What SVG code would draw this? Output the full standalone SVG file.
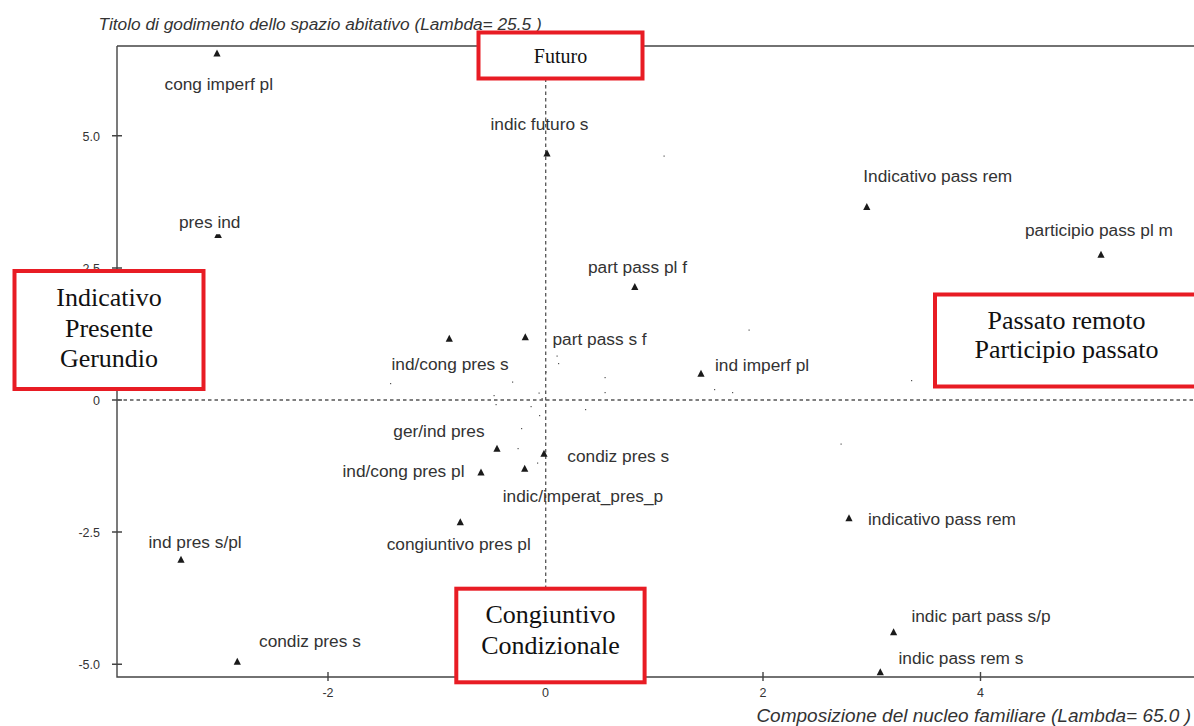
<svg xmlns="http://www.w3.org/2000/svg" xmlns:xlink="http://www.w3.org/1999/xlink" width="1194" height="726" viewBox="0 0 1194 726">
<style>
.lbl{font-family:"Liberation Sans",Arial,sans-serif;font-size:17.3px;fill:#333}
.ttl{font-family:"Liberation Sans",Arial,sans-serif;font-size:17.3px;font-style:italic;fill:#333}
.tick{font-family:"Liberation Sans",Arial,sans-serif;font-size:12.5px;fill:#333}
.box{fill:#fff;stroke:#e81c24;stroke-width:4}
.boxt{font-family:"Liberation Serif","Times New Roman",serif;font-size:26px;fill:#111;text-anchor:middle}
.ax{stroke:#444;stroke-width:1.4;fill:none}
.dash{stroke:#555;stroke-width:1.3;stroke-dasharray:3.5 3;fill:none}
.pt{fill:#1a1a1a}
.dot{fill:#555}
</style>
<defs>
<path id="tri" d="M0,-3.5 L3.6,3.5 L-3.6,3.5 Z"/>
</defs>
<rect width="1194" height="726" fill="#fff"/>

<g id="axes">
<text class="ttl" x="98.5" y="30">Titolo di godimento dello spazio abitativo (Lambda= 25.5 )</text>
<path class="ax" d="M117,46 H1194 M117,46 V677 H1194"/>
<path class="ax" d="M112,135.7 H122 M112,268 H122 M112,400 H122 M112,532 H122 M112,664.3 H122"/>
<path class="ax" d="M328,672 V681 M545.5,672 V681 M763,672 V681 M980.5,672 V681"/>
<g class="tick" text-anchor="end">
<text x="100" y="141">5.0</text>
<text x="100" y="273">2.5</text>
<text x="100" y="405">0</text>
<text x="100" y="537">-2.5</text>
<text x="100" y="669">-5.0</text>
</g>
<g class="tick" text-anchor="middle">
<text x="328" y="697">-2</text>
<text x="545.5" y="697">0</text>
<text x="763" y="697">2</text>
<text x="980.5" y="697">4</text>
</g>
<text class="ttl" x="1191" y="721.5" text-anchor="end" style="font-size:19px">Composizione del nucleo familiare (Lambda= 65.0 )</text>
</g>

<g id="connectors">
<path class="dash" d="M545.7,46 V677"/>
<path class="dash" d="M117,400 H1194"/>
</g>

<g id="dots" class="dot">
<rect x="663.5" y="155.5" width="1.2" height="1.2"/>
<rect x="748.5" y="329.5" width="1.2" height="1.2"/>
<rect x="556.5" y="355.5" width="1.2" height="1.2"/>
<rect x="558" y="363" width="1.2" height="1.2"/>
<rect x="545.5" y="371.5" width="1.2" height="1.2"/>
<rect x="390" y="383" width="1.2" height="1.2"/>
<rect x="512" y="381.5" width="1.2" height="1.2"/>
<rect x="604.5" y="377" width="1.2" height="1.2"/>
<rect x="604.5" y="392" width="1.2" height="1.2"/>
<rect x="714" y="389" width="1.2" height="1.2"/>
<rect x="732" y="392" width="1.2" height="1.2"/>
<rect x="911" y="380" width="1.2" height="1.2"/>
<rect x="493.5" y="395" width="1.2" height="1.2"/>
<rect x="495.5" y="404" width="1.2" height="1.2"/>
<rect x="538.5" y="392.5" width="1.2" height="1.2"/>
<rect x="541.5" y="398" width="1.2" height="1.2"/>
<rect x="530.5" y="406" width="1.2" height="1.2"/>
<rect x="539" y="415" width="1.2" height="1.2"/>
<rect x="585" y="409" width="1.2" height="1.2"/>
<rect x="521" y="428" width="1.2" height="1.2"/>
<rect x="517.5" y="448" width="1.2" height="1.2"/>
<rect x="537" y="462.5" width="1.2" height="1.2"/>
<rect x="840.5" y="443.5" width="1.2" height="1.2"/>
</g>

<g id="p-cong-imperf-pl"><use href="#tri" class="pt" x="217" y="53"/><text class="lbl" x="164.5" y="90">cong imperf pl</text></g>
<g id="p-indic-futuro-s"><use href="#tri" class="pt" x="547" y="153"/><text class="lbl" x="490.5" y="129.5">indic futuro s</text></g>
<g id="p-indicativo-pass-rem-up"><use href="#tri" class="pt" x="866.8" y="206.5"/><text class="lbl" x="863.3" y="181.5">Indicativo pass rem</text></g>
<g id="p-participio-pass-pl-m"><use href="#tri" class="pt" x="1101" y="254.3"/><text class="lbl" x="1025" y="236">participio pass pl m</text></g>
<g id="p-pres-ind"><path class="pt" d="M214.3,238 L221.9,238 L220,234.3 L216.2,234.3 Z"/><text class="lbl" x="179" y="228.3">pres ind</text></g>
<g id="p-part-pass-pl-f"><use href="#tri" class="pt" x="634.8" y="286.5"/><text class="lbl" x="588" y="272.7">part pass pl f</text></g>
<g id="p-ind-cong-pres-s"><use href="#tri" class="pt" x="449.3" y="338.3"/><text class="lbl" x="391.5" y="370">ind/cong pres s</text></g>
<g id="p-part-pass-s-f"><use href="#tri" class="pt" x="525.3" y="336.7"/><text class="lbl" x="552.5" y="345">part pass s f</text></g>
<g id="p-ind-imperf-pl"><use href="#tri" class="pt" x="701" y="373.3"/><text class="lbl" x="715" y="370.7">ind imperf pl</text></g>
<g id="p-ger-ind-pres"><use href="#tri" class="pt" x="497" y="448.3"/><text class="lbl" x="393.3" y="436.7">ger/ind pres</text></g>
<g id="p-condiz-pres-s-c"><use href="#tri" class="pt" x="544" y="453.3"/><text class="lbl" x="567.3" y="461.7">condiz pres s</text></g>
<g id="p-ind-cong-pres-pl"><use href="#tri" class="pt" x="481" y="472"/><text class="lbl" x="342.5" y="476.7">ind/cong pres pl</text></g>
<g id="p-indic-imperat"><use href="#tri" class="pt" x="524.7" y="468.3"/><text class="lbl" x="502.7" y="501.5">indic/imperat_pres_p</text></g>
<g id="p-congiuntivo-pres-pl"><use href="#tri" class="pt" x="460.3" y="521.7"/><text class="lbl" x="386.7" y="550">congiuntivo pres pl</text></g>
<g id="p-indicativo-pass-rem-low"><use href="#tri" class="pt" x="849" y="517.7"/><text class="lbl" x="868" y="525">indicativo pass rem</text></g>
<g id="p-ind-pres-s-pl"><use href="#tri" class="pt" x="181" y="559.3"/><text class="lbl" x="148.5" y="548.3">ind pres s/pl</text></g>
<g id="p-condiz-pres-s-low"><use href="#tri" class="pt" x="237.3" y="661.3"/><text class="lbl" x="259" y="646.7">condiz pres s</text></g>
<g id="p-indic-part-pass"><use href="#tri" class="pt" x="893.6" y="631.7"/><text class="lbl" x="911.4" y="621.7">indic part pass s/p</text></g>
<g id="p-indic-pass-rem-s"><use href="#tri" class="pt" x="880.3" y="671.7"/><text class="lbl" x="898.5" y="664.3">indic pass rem s</text></g>

<g id="box-futuro"><rect class="box" x="478.5" y="32.5" width="164" height="46"/><text class="boxt" x="560.5" y="62.5" style="font-size:20px">Futuro</text></g>
<g id="box-indicativo"><rect class="box" x="14.5" y="271" width="189" height="118"/><text class="boxt" x="109" y="306">Indicativo</text><text class="boxt" x="109" y="336.7">Presente</text><text class="boxt" x="109" y="366.7">Gerundio</text></g>
<g id="box-passato"><rect class="box" x="935" y="294.5" width="263" height="92"/><text class="boxt" x="1066.5" y="329">Passato remoto</text><text class="boxt" x="1066.5" y="358">Participio passato</text></g>
<g id="box-congiuntivo"><rect class="box" x="456.3" y="588.7" width="188.3" height="93.6"/><text class="boxt" x="550.5" y="623.3">Congiuntivo</text><text class="boxt" x="550.5" y="654">Condizionale</text></g>
</svg>
